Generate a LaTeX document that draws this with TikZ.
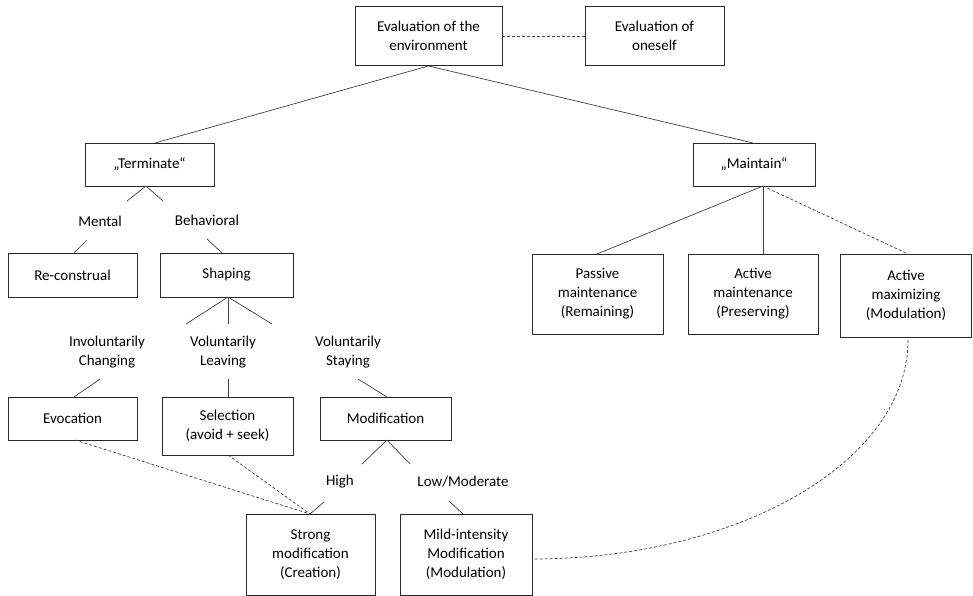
\documentclass[tikz,border=0pt]{standalone}
\usepackage{fontspec}
\setmainfont{Carlito}
\begin{document}
\begin{tikzpicture}[x=1pt,y=-1pt,
 box/.style={draw=black!85, line width=0.9pt, align=center, inner sep=0pt, font=\fontsize{15}{19}\selectfont},
 lbl/.style={align=center, inner sep=0pt, font=\fontsize{15}{19}\selectfont},
 con/.style={draw=black!75, line width=0.7pt},
 dsh/.style={draw=black!75, line width=0.7pt, dash pattern=on 3pt off 2pt}]
\useasboundingbox (0,0) rectangle (973,596);
% boxes
\node[box, minimum width=147pt, minimum height=59pt] (env) at (428.5,36) {Evaluation of the\\environment};
\node[box, minimum width=139pt, minimum height=59pt] (self) at (654.5,36) {Evaluation of\\oneself};
\node[box, minimum width=129pt, minimum height=43pt] (term) at (149.5,164.5) {„Terminate“};
\node[box, minimum width=122pt, minimum height=43pt] (maint) at (754,164.5) {„Maintain“};
\node[box, minimum width=129pt, minimum height=44pt] (recon) at (72.5,275) {Re-construal};
\node[box, minimum width=133pt, minimum height=44pt] (shaping) at (226.5,275) {Shaping};
\node[box, minimum width=129pt, minimum height=43pt] (evoc) at (72.5,418.5) {Evocation};
\node[box, minimum width=131pt, minimum height=58pt] (select) at (227.5,426) {Selection\\(avoid + seek)};
\node[box, minimum width=131pt, minimum height=43pt] (modif) at (385.5,418.5) {Modification};
\node[box, minimum width=129pt, minimum height=81pt] (strong) at (310.5,554.5) {Strong\\modification\\(Creation)};
\node[box, minimum width=132pt, minimum height=81pt] (mild) at (466,554.5) {Mild-intensity\\Modification\\(Modulation)};
\node[box, minimum width=131pt, minimum height=80pt] (passive) at (597.5,294) {Passive\\maintenance\\(Remaining)};
\node[box, minimum width=130pt, minimum height=80pt] (activem) at (753,294) {Active\\maintenance\\(Preserving)};
\node[box, minimum width=131pt, minimum height=83pt] (activex) at (906,295.5) {Active\\maximizing\\(Modulation)};
% labels
\node[lbl] (mental) at (100,221) {Mental};
\node[lbl] (behav) at (207,220) {Behavioral};
\node[lbl] (invol) at (107,352) {Involuntarily\\Changing};
\node[lbl] (volleave) at (223,352) {Voluntarily\\Leaving};
\node[lbl] (volstay) at (348,352) {Voluntarily\\Staying};
\node[lbl] (high) at (340,482) {High};
\node[lbl] (lowmod) at (463,482) {Low/Moderate};
% coordinates
\coordinate (termt) at (155,143);
\coordinate (maintt) at (753,143);
\coordinate (termb) at (146,186);
\coordinate (m1) at (127,201);
\coordinate (b1) at (163,201);
\coordinate (m2) at (87,240);
\coordinate (reca) at (74,253);
\coordinate (b2) at (207,239);
\coordinate (shpa) at (222,253);
\coordinate (shpb) at (228,297);
\coordinate (s1) at (186,324);
\coordinate (s2) at (228,324);
\coordinate (s3) at (272,324);
\coordinate (i1) at (100,379);
\coordinate (evt) at (74,397);
\coordinate (l1) at (228,379);
\coordinate (selt) at (228,397);
\coordinate (st1) at (358,379);
\coordinate (modt) at (387,397);
\coordinate (modb) at (387,440);
\coordinate (h1) at (362,464);
\coordinate (lo1) at (410,464);
\coordinate (h2) at (324,502);
\coordinate (strt) at (310,514);
\coordinate (lo2) at (449,501);
\coordinate (mildt) at (463,514);
\coordinate (evb) at (75,440);
\coordinate (selb) at (228,455);
\coordinate (maintb) at (763,186);
\coordinate (passt) at (597,254);
\coordinate (actt) at (763,254);
\coordinate (maxt) at (908,254);
\coordinate (maxb) at (908,340);
\coordinate (milde) at (532,559);
% connectors
\draw[dsh] (env.east) -- (self.west);
\draw[con] (env.south) -- (termt);
\draw[con] (env.south) -- (maintt);
\draw[con] (m1) -- (termb) -- (b1);
\draw[con] (m2) -- (reca);
\draw[con] (b2) -- (shpa);
\draw[con] (shpb) -- (s1);
\draw[con] (shpb) -- (s2);
\draw[con] (shpb) -- (s3);
\draw[con] (i1) -- (evt);
\draw[con] (l1) -- (selt);
\draw[con] (st1) -- (modt);
\draw[con] (h1) -- (modb) -- (lo1);
\draw[con] (h2) -- (strt);
\draw[con] (lo2) -- (mildt);
\draw[dsh] (evb) -- (strt);
\draw[dsh] (selb) -- (strt);
\draw[con] (maintb) -- (passt);
\draw[con] (maintb) -- (actt);
\draw[dsh] (maintb) -- (maxt);
\draw[dsh] (maxb) .. controls (908,461) and (740,559) .. (milde);
\end{tikzpicture}
\end{document}
